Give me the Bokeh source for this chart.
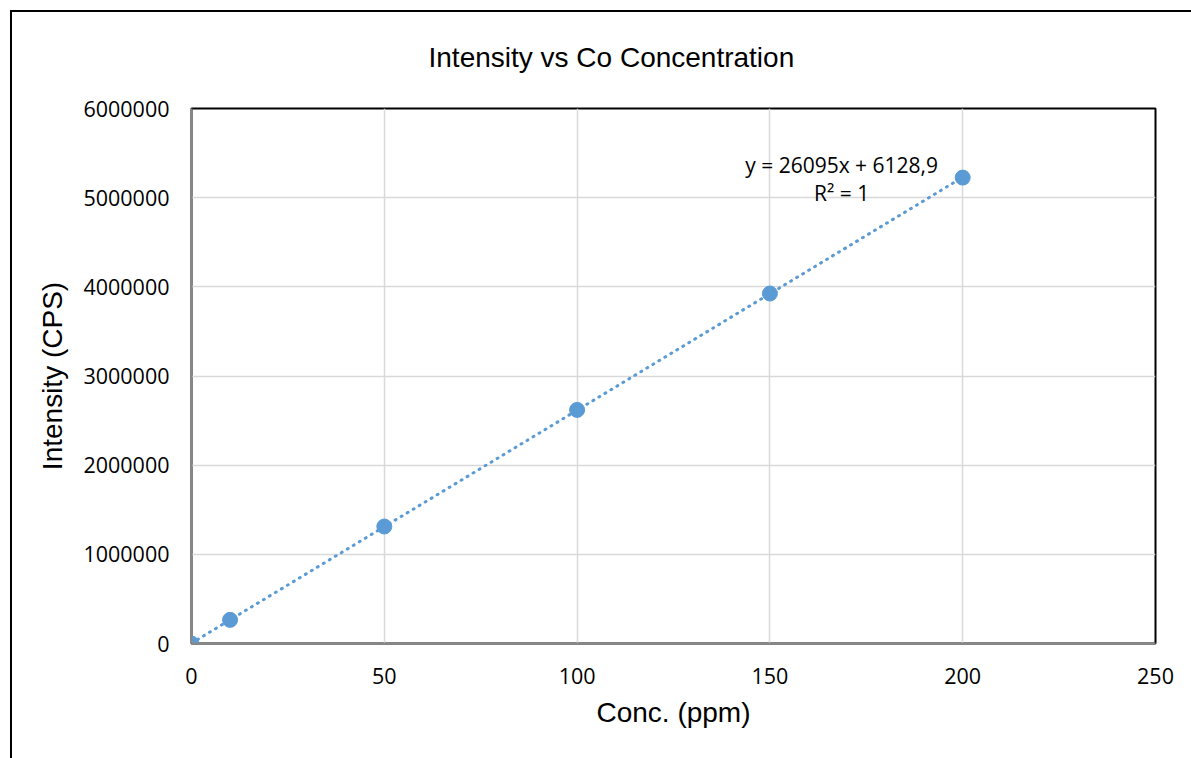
import numpy as np
from bokeh.plotting import figure
from bokeh.models import Range1d, FixedTicker, Label, PrintfTickFormatter, InlineStyleSheet
from bokeh.embed import file_html
from bokeh.resources import INLINE

# ---- data ----
conc = [0, 10, 50, 100, 150, 200]
intensity = [0, 265000, 1312000, 2620000, 3925000, 5225000]
x_ticks = [0, 50, 100, 150, 200, 250]
y_ticks = [0, 1000000, 2000000, 3000000, 4000000, 5000000, 6000000]
title_text = "Intensity vs Co Concentration"
x_title = "Conc. (ppm)"
y_title = "Intensity (CPS)"
eq_text = "y = 26095x + 6128,9"
r2_text = "R² = 1"

BLUE = "#5B9BD5"

border_css = InlineStyleSheet(css="""
:host { position: relative; }
:host::after {
  content: "";
  position: absolute;
  left: 10px; top: 10px; right: 0px; bottom: 0px;
  border-left: 2px solid black;
  border-top: 2px solid black;
  pointer-events: none;
  z-index: 10;
}
""")

p = figure(width=1191, height=758, output_backend="svg", toolbar_location=None,
           x_range=Range1d(0, 250), y_range=Range1d(0, 6000000),
           min_border_left=191, min_border_right=36, min_border_top=108, min_border_bottom=115,
           background_fill_color="white", border_fill_color="white",
           stylesheets=[border_css])

# title
p.title.text = title_text
p.title.align = "left"
p.title.offset = 237
p.title.standoff = 72
p.title.text_font = "Liberation Sans"
p.title.text_font_size = "28px"
p.title.text_font_style = "normal"
p.title.text_color = "black"

p.outline_line_color = "black"
p.outline_line_width = 2

# axes
p.xaxis.ticker = FixedTicker(ticks=x_ticks)
p.yaxis.ticker = FixedTicker(ticks=y_ticks)
p.yaxis.formatter = PrintfTickFormatter(format="%d")
for ax in (p.xaxis, p.yaxis):
    ax.axis_line_color = "#898989"
    ax.axis_line_width = 2
    ax.major_tick_out = 0
    ax.major_tick_in = 0
    ax.minor_tick_out = 0
    ax.minor_tick_in = 0
    ax.major_label_text_font = "Open Sans"
    ax.major_label_text_font_size = "21.5px"
    ax.major_label_text_color = "black"
    ax.axis_label_text_font = "Liberation Sans"
    ax.axis_label_text_font_size = "28px"
    ax.axis_label_text_font_style = "normal"
    ax.axis_label_text_color = "black"
p.xaxis.axis_label = x_title
p.yaxis.axis_label = y_title
p.xaxis.major_label_standoff = 24
p.yaxis.major_label_standoff = 22
p.xaxis.axis_label_standoff = 10
p.yaxis.axis_label_standoff = 12

# grid
p.xgrid.ticker = FixedTicker(ticks=x_ticks)
p.ygrid.ticker = FixedTicker(ticks=y_ticks)
p.grid.grid_line_color = "#D9D9D9"
p.grid.grid_line_width = 1.5

# trendline (linear fit of the data)
slope, intercept = np.polyfit(conc, intensity, 1)
xs = np.array([min(conc), max(conc)], dtype=float)
p.line(xs, slope * xs + intercept, line_color=BLUE, line_width=3,
       line_dash="1 6", line_cap="round")

# points
p.scatter(conc, intensity, size=15, fill_color=BLUE, line_color=BLUE)

# equation labels
p.add_layout(Label(x=168.6, y=5361000, text=eq_text, text_align="center",
                   text_baseline="middle", text_font="Open Sans",
                   text_font_size="21px", text_color="black"))
p.add_layout(Label(x=168.6, y=5047000, text=r2_text, text_align="center",
                   text_baseline="middle", text_font="Open Sans",
                   text_font_size="21px", text_color="black"))

open("out.html", "w").write(file_html(p, INLINE))
